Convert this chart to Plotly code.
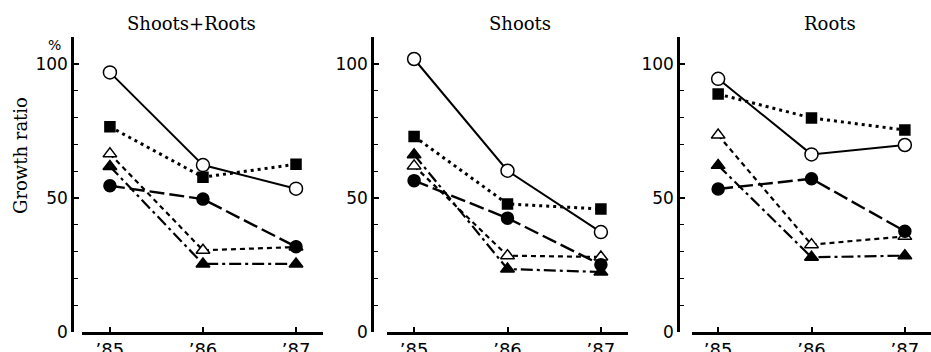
import plotly.graph_objects as go

years = [1985, 1986, 1987]
year_labels = ["\u201985", "\u201986", "\u201987"]
panel_titles = ["Shoots+Roots", "Shoots", "Roots"]

# series per panel: [Shoots+Roots, Shoots, Roots]
open_circle = [[96.9, 62.3, 53.5], [101.9, 60.2, 37.3], [94.5, 66.3, 69.8]]
filled_square = [[76.6, 57.8, 62.6], [73.0, 47.8, 45.9], [88.8, 79.9, 75.4]]
open_triangle = [[66.5, 30.5, 31.7], [62.0, 28.5, 28.0], [73.5, 32.6, 35.7]]
filled_triangle = [[61.8, 25.4, 25.4], [66.2, 23.5, 22.4], [62.2, 27.9, 28.5]]
filled_circle = [[54.6, 49.6, 31.8], [56.5, 42.5, 25.1], [53.4, 57.2, 37.6]]

W, H = 931, 352

series = [
    (open_triangle, "triangle-up", "white", "5px,4px", 12, 2.2),
    (filled_triangle, "triangle-up", "black", "12px,4px,3px,4px", 12, 2.2),
    (filled_circle, "circle", "black", "15px,5px", 12, 2.4),
    (filled_square, "square", "black", "3px,4px", 10, 3.0),
    (open_circle, "circle", "white", "solid", 13, 2.0),
]

# panel geometry in pixels
yaxis_px = [72, 372, 678]
xdom_px = [(82, 323), (387, 628), (692, 931)]
xranges = [(1984.70, 1987.29), (1984.71, 1987.29), (1984.72, 1987.28)]
title_x_px = [191, 520, 830]

fig = go.Figure()
for p in range(3):
    xa = "x" if p == 0 else f"x{p+1}"
    ya = "y" if p == 0 else f"y{p+1}"
    for vals, sym, fill, dash, size, lw in series:
        fig.add_trace(go.Scatter(
            x=years, y=vals[p], mode="lines+markers",
            xaxis=xa, yaxis=ya, showlegend=False,
            line=dict(color="black", width=lw, dash=dash),
            marker=dict(symbol=sym, size=size, color=fill,
                        line=dict(color="black", width=1.5)),
        ))

y0_px, ytop_px = 332, 37.3
tick_font = dict(family="DejaVu Sans", size=17, color="black")
layout = dict(
    width=W, height=H, margin=dict(l=0, r=0, t=0, b=0, autoexpand=False),
    paper_bgcolor="white", plot_bgcolor="white", showlegend=False,
    template="none",
)
for p in range(3):
    xk = "xaxis" if p == 0 else f"xaxis{p+1}"
    yk = "yaxis" if p == 0 else f"yaxis{p+1}"
    ya = "y" if p == 0 else f"y{p+1}"
    layout[xk] = dict(
        domain=[xdom_px[p][0] / W, xdom_px[p][1] / W], anchor=ya,
        range=list(xranges[p]), showline=True, linewidth=2.5, linecolor="black",
        showgrid=False, zeroline=False, ticks="inside", ticklen=5, tickwidth=1.5,
        tickcolor="black", tickvals=years, ticktext=year_labels,
        tickfont=dict(family="DejaVu Sans", size=18, color="black"),
        automargin=False,
    )
    layout[yk] = dict(
        domain=[1 - y0_px / H, 1 - ytop_px / H], anchor="free",
        position=yaxis_px[p] / W, range=[0, 110],
        showline=True, linewidth=2.5, linecolor="black",
        showgrid=False, zeroline=False, ticks="inside", ticklen=5, tickwidth=1.5,
        tickcolor="black", tickvals=[0, 50, 100], tickfont=tick_font,
        automargin=False,
        minor=dict(tickmode="linear", tick0=0, dtick=10, ticks="inside",
                   ticklen=4, tickwidth=1.2, tickcolor="black", showgrid=False),
    )
fig.update_layout(**layout)

annotations = []
for p in range(3):
    annotations.append(dict(
        x=title_x_px[p] / W, y=1 - 24 / H, xref="paper", yref="paper",
        text=panel_titles[p], showarrow=False, xanchor="center", yanchor="middle",
        font=dict(family="DejaVu Serif", size=18, color="black"),
    ))
annotations.append(dict(
    x=21 / W, y=1 - 156 / H, xref="paper", yref="paper", text="Growth ratio",
    textangle=-90, showarrow=False, xanchor="center", yanchor="middle",
    font=dict(family="DejaVu Serif", size=18, color="black"),
))
annotations.append(dict(
    x=54 / W, y=1 - 45 / H, xref="paper", yref="paper", text="%",
    showarrow=False, xanchor="center", yanchor="middle",
    font=dict(family="DejaVu Sans", size=14, color="black"),
))
fig.update_layout(annotations=annotations)

fig.write_html(
    "out.html",
    config={"displayModeBar": False},
    post_script="document.body.style.margin='0px';document.body.style.overflow='hidden';",
)
